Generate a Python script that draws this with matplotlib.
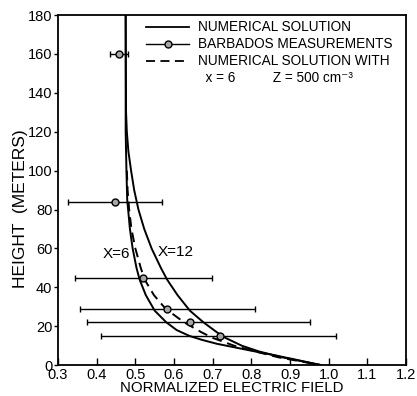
import matplotlib
matplotlib.use("Agg")
import matplotlib.pyplot as plt
from matplotlib.lines import Line2D

plt.rcParams['font.family'] = ['Liberation Sans', 'DejaVu Sans']

# Barbados measurements: height (m), normalized field, error-bar limits
meas_height = [160, 84, 45, 29, 22, 15]
meas_field = [0.458, 0.447, 0.520, 0.582, 0.641, 0.719]
meas_low = [0.434, 0.326, 0.344, 0.357, 0.375, 0.411]
meas_high = [0.481, 0.569, 0.698, 0.810, 0.952, 1.019]

# Numerical solution, X = 6
x6_height = [180, 120, 100, 85, 70, 60, 50, 44, 36, 28, 22, 18, 15, 13, 11, 9, 7,
             5, 3, 1.5, 0]
x6_field = [0.475, 0.475, 0.477, 0.479, 0.486, 0.493, 0.503, 0.511, 0.527, 0.550,
            0.580, 0.607, 0.640, 0.672, 0.710, 0.760, 0.810, 0.862, 0.910, 0.945,
            0.980]

# Numerical solution, X = 12
x12_height = [180, 130, 120, 110, 100, 90, 80, 70, 60, 50, 44, 36, 28, 22, 17, 14,
              10, 7, 4, 2, 0]
x12_field = [0.475, 0.476, 0.478, 0.482, 0.489, 0.497, 0.508, 0.523, 0.542, 0.566,
             0.582, 0.609, 0.641, 0.676, 0.710, 0.733, 0.775, 0.820, 0.880, 0.930,
             0.980]

# Numerical solution with X = 6, Z = 500 cm^-3
z500_height = [100, 90, 80, 70, 60, 50, 44, 36, 29, 22, 17, 14, 10, 7, 4, 2, 0]
z500_field = [0.478, 0.480, 0.484, 0.490, 0.500, 0.514, 0.524, 0.548, 0.578, 0.626,
              0.670, 0.700, 0.755, 0.810, 0.870, 0.925, 0.980]

xticks = [0.3, 0.4, 0.5, 0.6, 0.7, 0.8, 0.9, 1.0, 1.1, 1.2]
yticks = [0, 20, 40, 60, 80, 100, 120, 140, 160, 180]

fig = plt.figure(figsize=(4.17, 3.96), dpi=100)
ax = fig.add_axes([0.139, 0.078, 0.835, 0.884])

ax.plot(x6_field, x6_height, color='black', lw=1.4)
ax.plot(x12_field, x12_height, color='black', lw=1.4)
ax.plot(z500_field, z500_height, color='black', lw=1.4, ls=(0, (5, 3)))

xerr = [[f - lo for f, lo in zip(meas_field, meas_low)],
        [hi - f for f, hi in zip(meas_field, meas_high)]]
ax.errorbar(meas_field, meas_height, xerr=xerr, fmt='o', color='black',
            ms=5, mfc='0.65', mec='black', mew=1.0, elinewidth=1.0,
            capsize=2.5, capthick=1.0, zorder=3)

ax.text(0.45, 57, 'X=6', fontsize=11, ha='center', va='center')
ax.text(0.605, 58, 'X=12', fontsize=11, ha='center', va='center')

ax.set_xlim(0.3, 1.2)
ax.set_ylim(0, 180)
ax.set_xticks(xticks)
ax.set_xticklabels([f'{t:.1f}' for t in xticks])
ax.set_yticks(yticks)
ax.tick_params(axis='x', direction='in', length=5, width=1.0, labelsize=10.5, pad=2)
ax.tick_params(axis='y', direction='out', length=3, width=1.0, labelsize=10.5, pad=1)
for s in ax.spines.values():
    s.set_linewidth(1.3)

ax.set_xlabel('NORMALIZED ELECTRIC FIELD', fontsize=10.8, labelpad=-1)
fig.text(0.048, 0.472, 'HEIGHT  (METERS)', rotation=90, fontsize=12.5,
         ha='center', va='center')

handles = [
    Line2D([], [], color='black', lw=1.3),
    Line2D([], [], color='black', lw=1.0, marker='o', ms=5, mfc='0.65', mec='black'),
    Line2D([], [], color='black', lw=1.3, ls=(0, (5, 3))),
    Line2D([], [], color='none'),
]
labels = ['NUMERICAL SOLUTION', 'BARBADOS MEASUREMENTS',
          'NUMERICAL SOLUTION WITH', '  x = 6          Z = 500 cm\u207b\u00b3']
ax.legend(handles, labels, loc='upper right', frameon=False, fontsize=9.8,
          handlelength=3.2, handletextpad=0.6, labelspacing=0.22,
          borderaxespad=0.0, bbox_to_anchor=(0.975, 1.0))

fig.savefig('out.png', dpi=100)
